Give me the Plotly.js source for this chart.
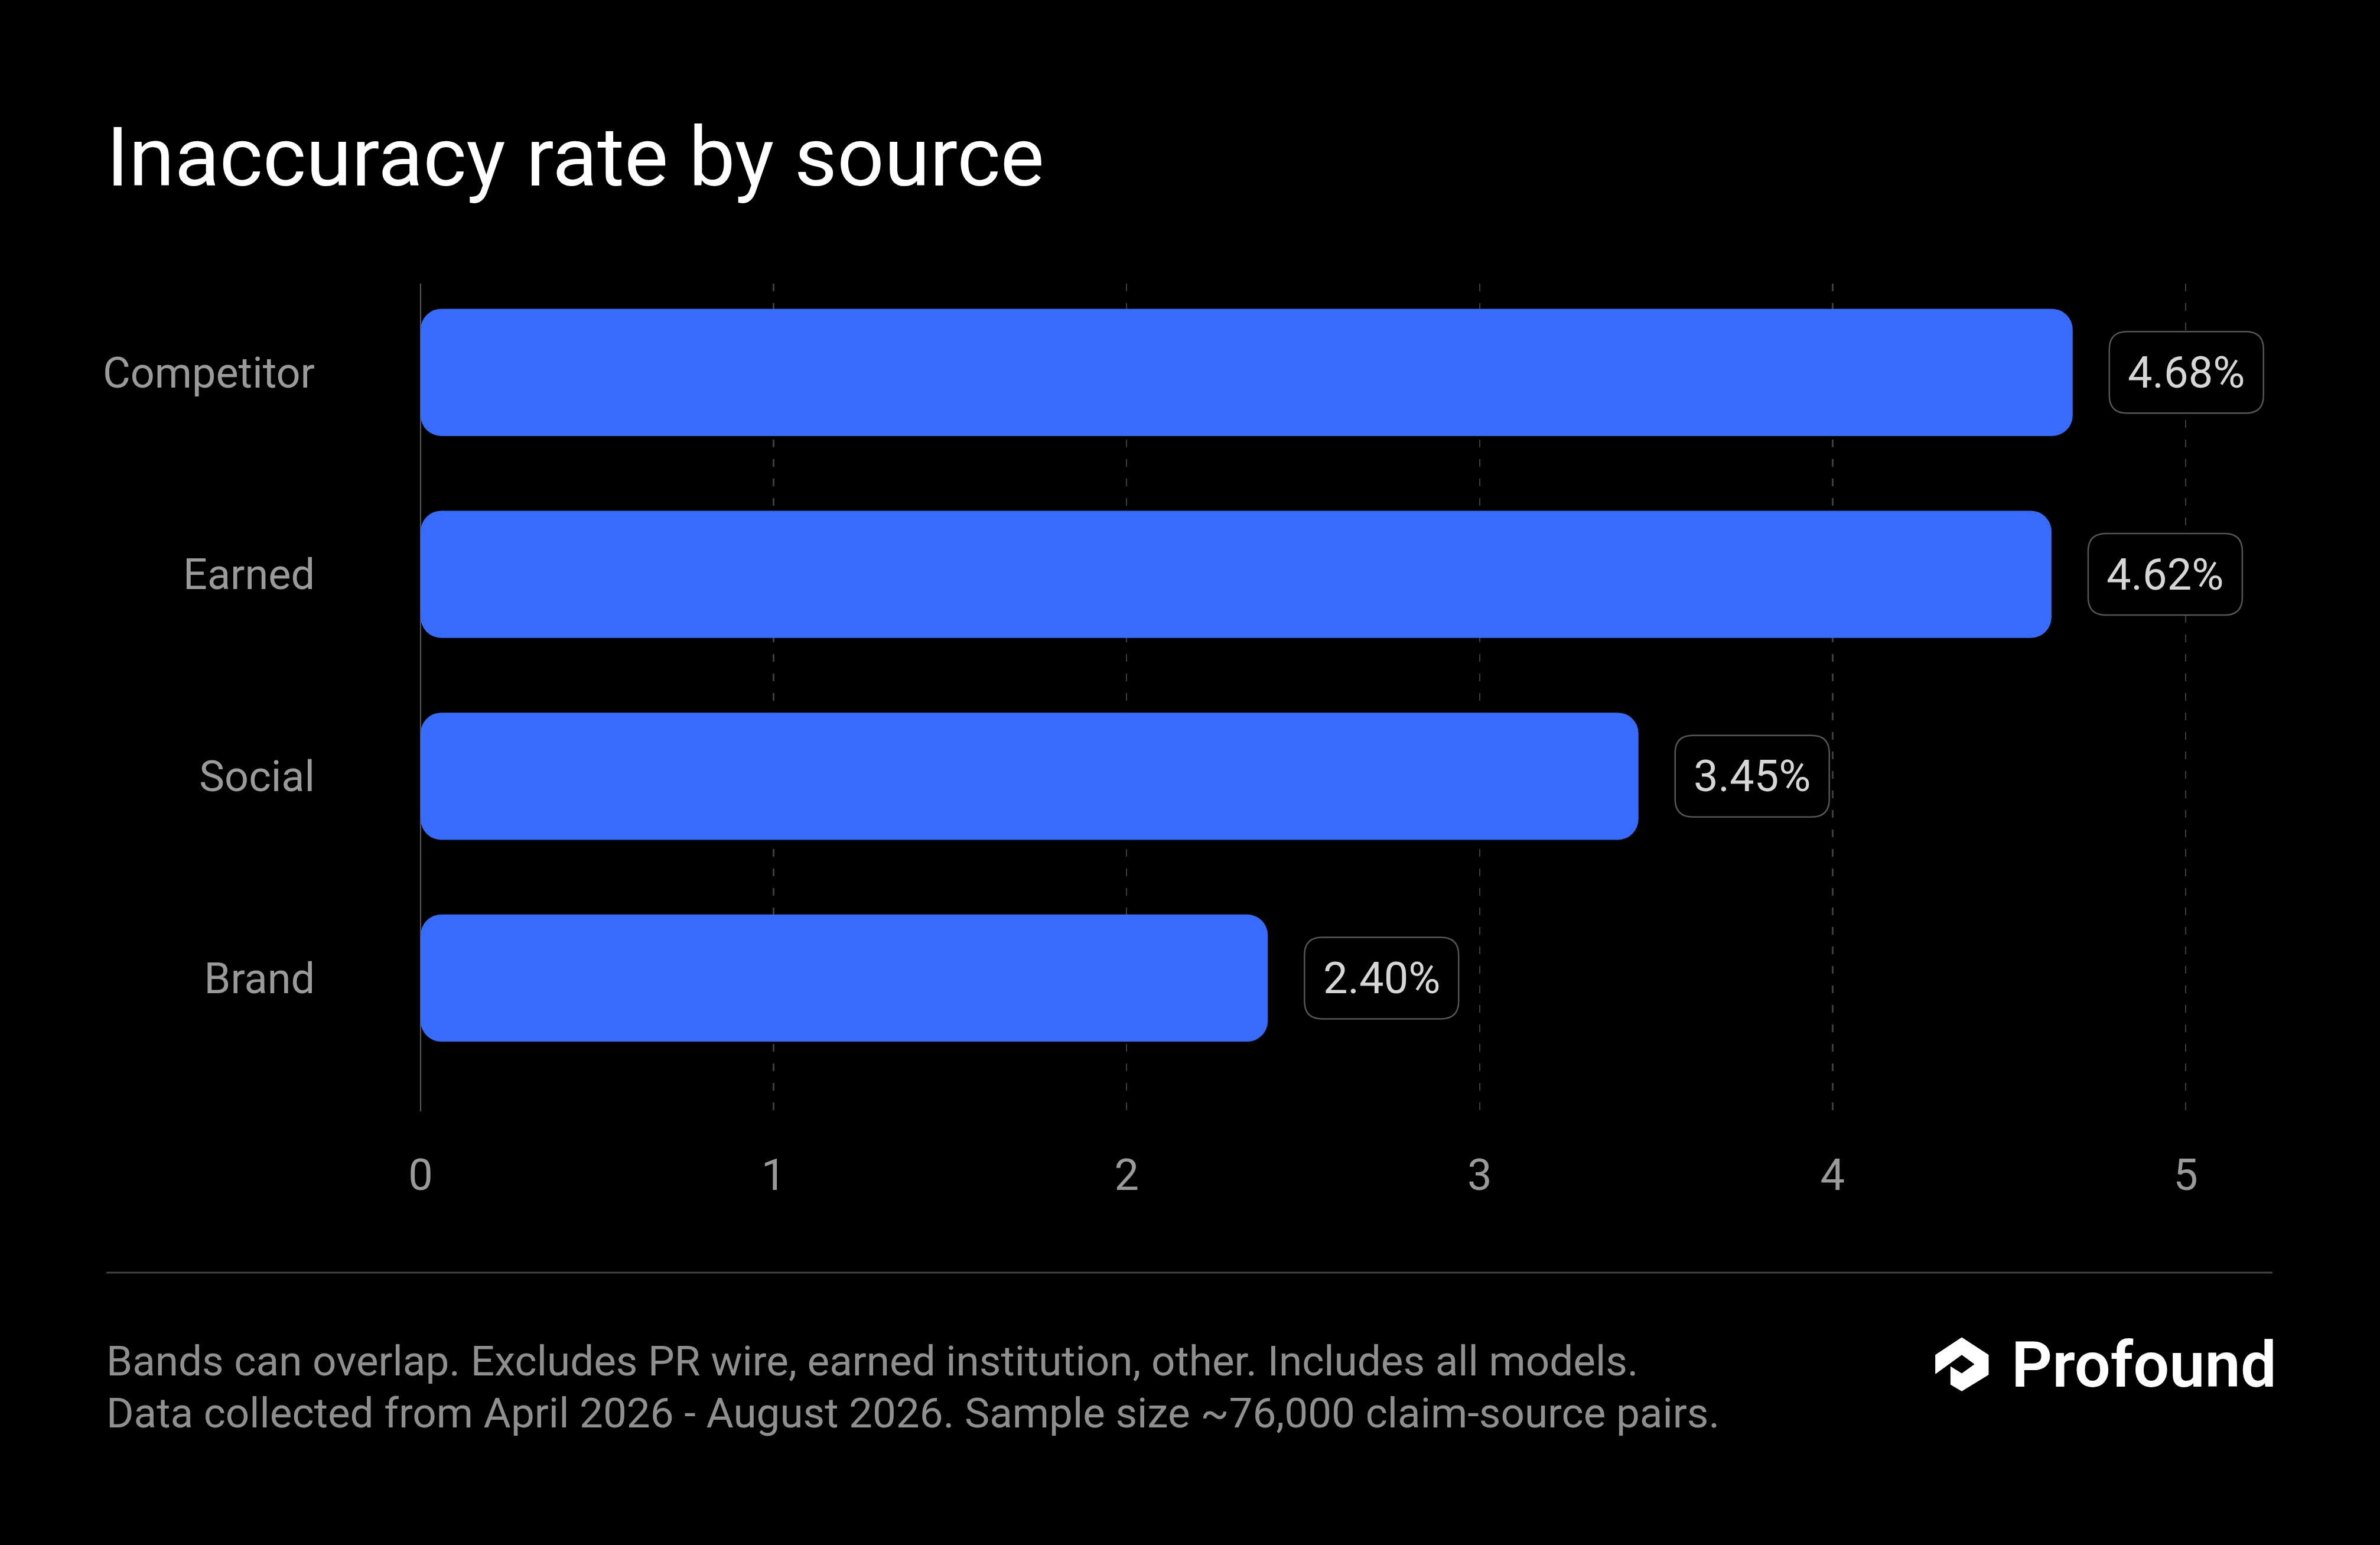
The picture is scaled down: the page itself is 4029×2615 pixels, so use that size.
<!DOCTYPE html>
<html>
<head>
<meta charset="utf-8">
<script src="https://cdn.plot.ly/plotly-3.0.1.min.js"></script>
<style>
  html, body { margin: 0; padding: 0; background: #000; }
  #chart { width: 4029px; height: 2615px; }
</style>
</head>
<body>
<div id="chart"></div>
<script>
// ---- data ----
const categories = ['Competitor', 'Earned', 'Social', 'Brand'];
const rates = [4.68, 4.62, 3.45, 2.40];
const xTicks = [0, 1, 2, 3, 4, 5];
const titleText = 'Inaccuracy rate by source';
const footnoteLines = [
  'Bands can overlap. Excludes PR wire, earned institution, other. Includes all models.',
  'Data collected from April 2026 - August 2026. Sample size ~76,000 claim-source pairs.'
];
const brandName = 'Profound';

// ---- layout geometry ----
const W = 4029, H = 2615;
const M = { l: 712, r: 169, t: 480, b: 734 };
const PW = W - M.l - M.r, PH = H - M.t - M.b;
const UNIT = (3700 - 712) / 5;           // pixels per x unit
const X_MAX = PW / UNIT;                  // extend range so label boxes are not clipped
const fx = px => (px - M.l) / PW;
const fy = py => (H - M.b - py) / PH;

const FONT = 'Roboto, "Noto Sans", sans-serif';
const BAR = '#366CF9';

const traces = [
  {
    type: 'bar', orientation: 'h',
    y: categories, x: rates, base: rates.map(() => 0),
    width: 0.63,
    marker: { color: BAR, cornerradius: 35, line: { width: 0 } },
    hoverinfo: 'skip', showlegend: false
  }
];

// value label boxes (rounded rects in pixel units anchored at data value)
const boxL = 62, boxW = 261, boxH = 138, rad = 30;
const bx0 = boxL, bx1 = boxL + boxW, by = boxH / 2;
const boxPath = `M ${bx0 + rad},${-by} L ${bx1 - rad},${-by} Q ${bx1},${-by} ${bx1},${-by + rad} ` +
  `L ${bx1},${by - rad} Q ${bx1},${by} ${bx1 - rad},${by} L ${bx0 + rad},${by} ` +
  `Q ${bx0},${by} ${bx0},${by - rad} L ${bx0},${-by + rad} Q ${bx0},${-by} ${bx0 + rad},${-by} Z`;

const shapes = [];
const annotations = [];

rates.forEach((v, i) => {
  shapes.push({
    type: 'path', xref: 'x', yref: 'y',
    xsizemode: 'pixel', ysizemode: 'pixel',
    xanchor: v, yanchor: i,
    path: boxPath,
    fillcolor: '#000000',
    line: { color: '#555555', width: 2.5 },
    layer: 'above'
  });
  annotations.push({
    x: v, y: i, xref: 'x', yref: 'y',
    xshift: boxL + boxW / 2, xanchor: 'center', yanchor: 'middle',
    text: v.toFixed(2) + '%', showarrow: false,
    font: { family: FONT, size: 74, color: '#d6d6d6' }
  });
});

// divider line
shapes.push({
  type: 'line', xref: 'paper', yref: 'paper',
  x0: fx(180), x1: fx(3847), y0: fy(2154), y1: fy(2154),
  line: { color: '#444444', width: 3 }
});

// logo icon
const iconPts = [
  [3321, 2264], [3276.7, 2293.3], [3276.7, 2325], [3321, 2292.7], [3343.3, 2309],
  [3321, 2325], [3302.3, 2313.3], [3302.3, 2343.3], [3321, 2354.3], [3366, 2326.7], [3366, 2293.3]
];
shapes.push({
  type: 'path', xref: 'paper', yref: 'paper',
  path: 'M ' + iconPts.map(p => fx(p[0]).toFixed(5) + ',' + fy(p[1]).toFixed(5)).join(' L ') + ' Z',
  fillcolor: '#ffffff', line: { color: '#ffffff', width: 1 }
});

// title
annotations.push({
  xref: 'paper', yref: 'paper', x: fx(178), y: fy(266),
  xanchor: 'left', yanchor: 'middle', showarrow: false,
  text: titleText,
  font: { family: FONT, size: 140, color: '#ffffff' }
});

// footnotes
const footY = [2303, 2391];
footnoteLines.forEach((t, k) => {
  annotations.push({
    xref: 'paper', yref: 'paper', x: fx(178), y: fy(footY[k]),
    xanchor: 'left', yanchor: 'middle', showarrow: false,
    text: t,
    font: { family: FONT, size: 71, color: '#8f8f8f' }
  });
});

// brand name
annotations.push({
  xref: 'paper', yref: 'paper', x: fx(3856), y: fy(2310),
  xanchor: 'right', yanchor: 'middle', showarrow: false,
  text: brandName,
  font: { family: FONT, size: 108, color: '#ffffff', weight: 600 }
});

const layout = {
  width: W, height: H,
  margin: M,
  paper_bgcolor: '#000000', plot_bgcolor: '#000000',
  showlegend: false,
  xaxis: {
    range: [0, X_MAX],
    tickvals: xTicks,
    showgrid: true, gridcolor: '#3d3d3d', gridwidth: 2.5, griddash: '13px,20px',
    zeroline: true, zerolinecolor: '#5a5a5a', zerolinewidth: 2.5,
    showline: false, ticks: '',
    ticklabelstandoff: 58,
    tickfont: { family: FONT, size: 74, color: '#9a9a9a' },
    fixedrange: true
  },
  yaxis: {
    type: 'category',
    categoryorder: 'array', categoryarray: categories,
    range: [3.66, -0.44],
    showgrid: false, zeroline: false, showline: false, ticks: '',
    ticklabelstandoff: 178,
    tickfont: { family: FONT, size: 72, color: '#9a9a9a' },
    fixedrange: true
  },
  shapes: shapes,
  annotations: annotations
};

Plotly.newPlot('chart', traces, layout, { displayModeBar: false, staticPlot: true });
</script>
</body>
</html>
